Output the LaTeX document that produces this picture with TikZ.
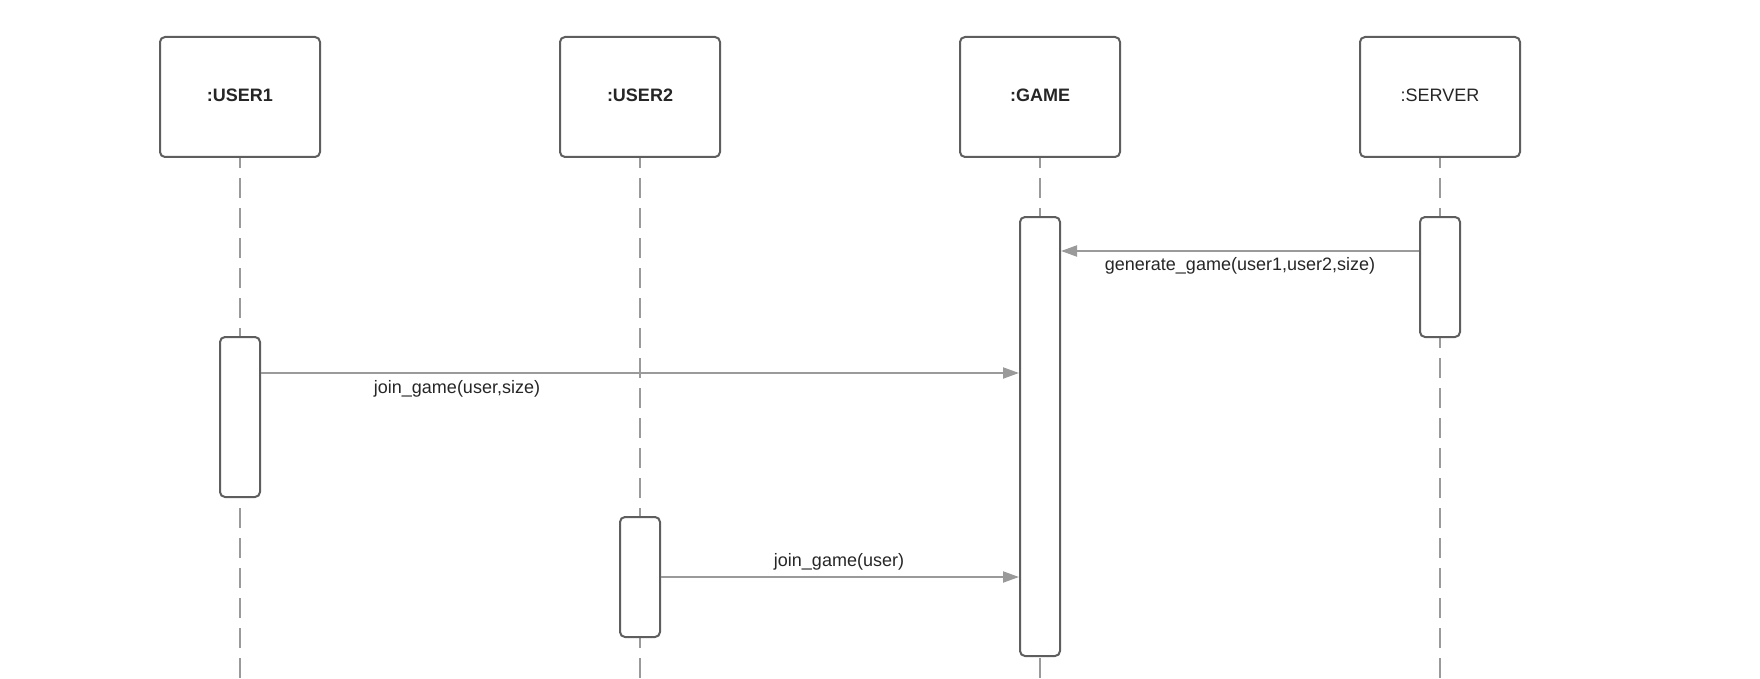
\documentclass[tikz,border=0pt]{standalone}
\usepackage{fontspec}
\setmainfont{Liberation Sans}
\usetikzlibrary{arrows.meta}

\definecolor{boxline}{HTML}{5E5E5E}
\definecolor{wire}{HTML}{9A9A9A}
\definecolor{txt}{HTML}{262626}

\newcommand{\headtext}[1]{\raisebox{3pt}{#1}}

\tikzset{
  head/.style={draw=boxline, line width=2pt, rounded corners=5pt, fill=white,
    minimum width=160pt, minimum height=120pt, inner sep=0pt, text=txt,
    font=\fontsize{18}{20}\selectfont},
  actbox/.style={draw=boxline, line width=2pt, rounded corners=5pt, fill=white,
    minimum width=40pt, inner sep=0pt},
  lifeline/.style={draw=wire, line width=2pt, dash pattern=on 20pt off 10pt, dash phase=10pt},
  msg/.style={draw=wire, line width=2pt, -{Triangle[length=16pt,width=11pt]}},
  msglabel/.style={anchor=base, inner sep=0pt, text=txt, font=\fontsize{18}{20}\selectfont},
}

\begin{document}
\begin{tikzpicture}[x=1pt, y=-1pt]
\useasboundingbox (0,0) rectangle (1760,679);

% object heads
\node[head] (u1) at (240,97) {\headtext{\bfseries :USER1}};
\node[head] (u2) at (640,97) {\headtext{\bfseries :USER2}};
\node[head] (game) at (1040,97) {\headtext{\bfseries :GAME}};
\node[head] (srv) at (1440,97) {\headtext{:SERVER}};

% lower ends of the lifelines
\coordinate (u1end) at (240,679);
\coordinate (u2end) at (640,679);
\coordinate (gameend) at (1040,679);
\coordinate (srvend) at (1440,679);

% lifelines
\draw[lifeline] (u1.south) -- (u1end);
\draw[lifeline] (u2.south) -- (u2end);
\draw[lifeline] (game.south) -- (gameend);
\draw[lifeline] (srv.south) -- (srvend);

% activation bars
\node[actbox, minimum height=439pt] (gameact) at (1040,436.5) {};
\node[actbox, minimum height=120pt] (srvact) at (1440,277) {};
\node[actbox, minimum height=160pt] (u1act) at (240,417) {};
\node[actbox, minimum height=120pt] (u2act) at (640,577) {};

% message levels
\coordinate (m1) at (0,251);
\coordinate (m2) at (0,373);

% messages
\draw[msg] (srvact.west |- m1) -- (gameact.east |- m1);
\draw[msg] (u1act.east |- m2) -- (gameact.west |- m2);
\draw[msg] (u2act.east) -- (gameact.west |- u2act.east);

% message labels
\node[msglabel] (l1) at (1240,270) {generate\_game(user1,user2,size)};
\node[msglabel] (l2) at (457,393) {join\_game(user,size)};
\node[msglabel] (l3) at (839,566) {join\_game(user)};
\end{tikzpicture}
\end{document}
